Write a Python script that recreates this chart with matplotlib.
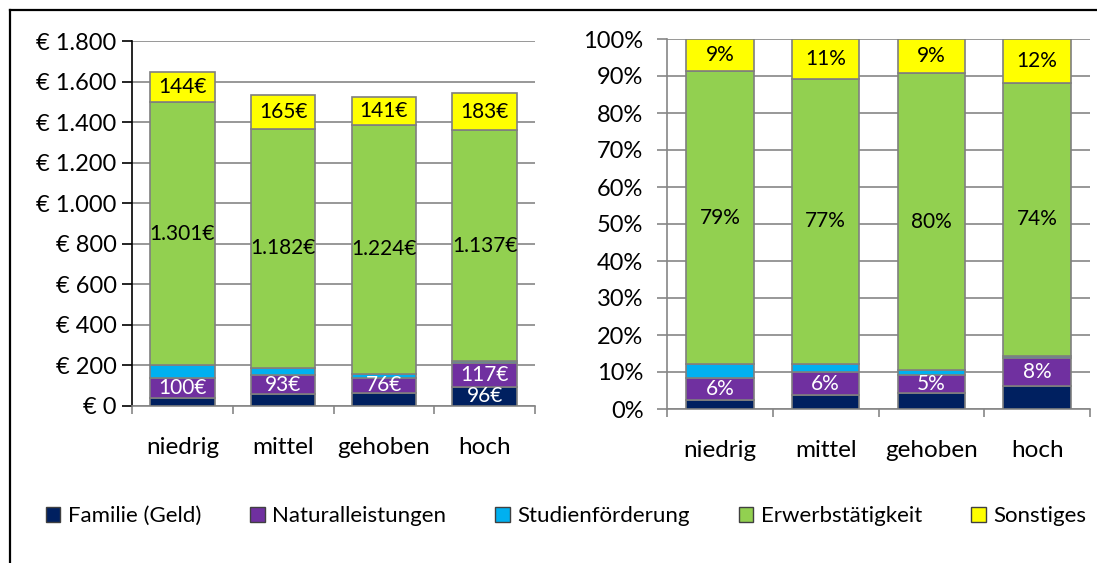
import numpy as np
import matplotlib
matplotlib.use("Agg")
import matplotlib.pyplot as plt
from matplotlib.ticker import FuncFormatter, MultipleLocator
from matplotlib.lines import Line2D
from matplotlib.patches import Patch

plt.rcParams['font.family'] = ['Lato', 'DejaVu Sans']

# data (euro per month)
groups = ["niedrig", "mittel", "gehoben", "hoch"]
series = ["Familie (Geld)", "Naturalleistungen", "Studienförderung", "Erwerbstätigkeit", "Sonstiges"]
familie = [40, 59, 64, 96]
natural = [100, 93, 76, 117]
studien = [60, 34, 20, 10]
erwerb = [1301, 1182, 1224, 1137]
sonstiges = [144, 165, 141, 183]

colors = ["#002060", "#7030A0", "#00B0F0", "#92D050", "#FFFF00"]
label_colors = ["white", "white", None, "black", "black"]
# which segments carry a label: left panel / right panel
show_left = [[False, False, False, True], [True] * 4, [False] * 4, [True] * 4, [True] * 4]
show_right = [[False] * 4, [True] * 4, [False] * 4, [True] * 4, [True] * 4]

vals = np.array([familie, natural, studien, erwerb, sonstiges], dtype=float)
shares = vals / vals.sum(axis=0) * 100

W, H = 1097, 563
fig = plt.figure(figsize=(W / 100, H / 100), dpi=100)

def fx(px):
    return px / W

def fy(py):
    return 1 - py / H

ax1 = fig.add_axes([fx(132), fy(406), fx(535 - 132), fy(41) - fy(406)])
ax2 = fig.add_axes([fx(667), fy(409), fx(1090 - 667), fy(39) - fy(409)])

grid_c = "#868686"
edge_c = "#7f7f7f"
x = np.arange(len(groups))


def draw(ax, data, show, fmt):
    bottom = np.zeros(len(groups))
    for i, row in enumerate(data):
        ax.bar(x, row, 0.64, bottom=bottom, color=colors[i], edgecolor=edge_c,
               linewidth=1.2, zorder=3)
        for j in range(len(groups)):
            if show[i][j]:
                ax.text(x[j], bottom[j] + row[j] / 2, fmt(i, j, row[j]), ha='center',
                        va='center', fontsize=15, color=label_colors[i], zorder=4)
        bottom += row
    ax.set_xlim(-0.5, len(groups) - 0.5)
    ax.set_xticks(x)
    ax.set_xticklabels(groups, fontsize=17.5)
    ax.set_xticks(np.arange(len(groups) + 1) - 0.5, minor=True)
    ax.tick_params(axis='x', which='major', length=0, pad=22)
    ax.tick_params(axis='x', which='minor', length=6, color=grid_c, width=1.2)
    ax.grid(axis='y', color=grid_c, linewidth=1.2, zorder=0)
    for s in ['top', 'right']:
        ax.spines[s].set_visible(False)
    ax.spines['bottom'].set_color(grid_c)
    ax.spines['bottom'].set_linewidth(1.2)


def fmt_eur(i, j, v):
    return f"{int(round(v)):,}€".replace(",", ".")


def fmt_pct(i, j, v):
    return f"{int(round(v))}%"


draw(ax1, vals, show_left, fmt_eur)
ax1.set_ylim(0, 1800)
ax1.yaxis.set_major_locator(MultipleLocator(200))
ax1.yaxis.set_major_formatter(FuncFormatter(lambda v, p: "€ " + f"{int(v):,}".replace(",", ".")))
ax1.tick_params(axis='y', labelsize=17, length=7, width=1.2, pad=4)
ax1.spines['left'].set_color("black")
ax1.spines['left'].set_linewidth(1.2)

draw(ax2, shares, show_right, fmt_pct)
ax2.set_ylim(0, 100)
ax2.yaxis.set_major_locator(MultipleLocator(10))
ax2.yaxis.set_major_formatter(FuncFormatter(lambda v, p: f"{int(v)}%"))
ax2.tick_params(axis='y', labelsize=17, length=7, width=1.2, color=grid_c, pad=10)
ax2.spines['left'].set_color(grid_c)
ax2.spines['left'].set_linewidth(1.2)

handles = [Patch(facecolor=c, edgecolor="#404040", linewidth=1) for c in colors]
fig.legend(handles, series, loc='center', bbox_to_anchor=(0.516, 0.083), ncol=5,
           frameon=False, fontsize=16, handlelength=0.65, handleheight=0.65,
           handletextpad=0.35, columnspacing=2.2)

# outer frame (top and left edge only)
fig.add_artist(Line2D([fx(10), 1], [fy(10), fy(10)], color='black', linewidth=1.6))
fig.add_artist(Line2D([fx(10), fx(10)], [fy(10), 0], color='black', linewidth=1.6))

fig.savefig("out.png", dpi=100)
